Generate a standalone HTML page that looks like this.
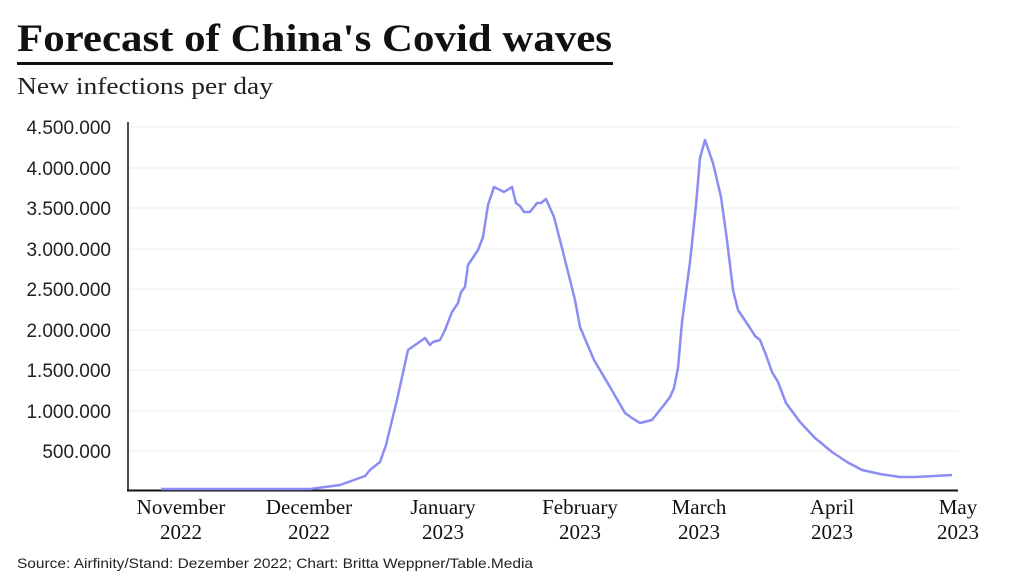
<!DOCTYPE html>
<html><head><meta charset="utf-8"><style>
body{margin:0;background:#fff;width:1024px;height:576px;overflow:hidden}
svg{display:block}
</style></head><body>
<svg width="1024" height="576" xmlns="http://www.w3.org/2000/svg" font-family="'Liberation Serif',serif">
<text x="17" y="51" font-size="39" font-weight="bold" fill="#111" textLength="595" lengthAdjust="spacingAndGlyphs">Forecast of China's Covid waves</text>
<rect x="17" y="62" width="596" height="3" fill="#111"/>
<text x="17" y="94" font-size="24" fill="#222" textLength="256" lengthAdjust="spacingAndGlyphs">New infections per day</text>
<g stroke="#eee" stroke-width="1">
<line x1="129" y1="127" x2="958" y2="127"/><line x1="129" y1="168" x2="958" y2="168"/>
<line x1="129" y1="208" x2="958" y2="208"/><line x1="129" y1="249" x2="958" y2="249"/>
<line x1="129" y1="289" x2="958" y2="289"/><line x1="129" y1="330" x2="958" y2="330"/>
<line x1="129" y1="370" x2="958" y2="370"/><line x1="129" y1="411" x2="958" y2="411"/>
<line x1="129" y1="451" x2="958" y2="451"/>
</g>
<g font-family="'Liberation Sans',sans-serif" font-size="19" fill="#222" text-anchor="end">
<text x="111" y="134">4.500.000</text><text x="111" y="175">4.000.000</text>
<text x="111" y="215">3.500.000</text><text x="111" y="256">3.000.000</text>
<text x="111" y="296">2.500.000</text><text x="111" y="337">2.000.000</text>
<text x="111" y="377">1.500.000</text><text x="111" y="418">1.000.000</text>
<text x="111" y="458">500.000</text>
</g>
<line x1="128" y1="122" x2="128" y2="491" stroke="#111" stroke-width="1.5"/>
<line x1="127" y1="490.5" x2="958" y2="490.5" stroke="#111" stroke-width="2"/>
<polyline fill="none" stroke="#8c8cf5" stroke-width="2.5" stroke-linejoin="round" points="161,489 310,489 340,485 365,476 370,470 380,462 386,445 397,400 408,350 425,338 430,345 433,342 440,340 445,330 452,312 458,303 461,292 465,287 468,265 478,250 483,237 488,205 494,187 504,192 512,187 516,203 520,206 524,212 530,212 537,203 541,203 546,199 554,217 562,248 567,268 575,300 580,327 594,360 610,387 625,413 632,418 640,423 652,420 664,405 670,397 674,388 678,368 682,322 690,262 696,205 700,158 705,140 713,163 721,197 727,240 733,290 738,310 750,328 755,336 760,340 766,355 772,372 778,382 786,403 800,422 815,438 832,452 847,462 862,470 880,474 900,477 915,477 935,476 952,475"/>
<g font-size="21" fill="#111" text-anchor="middle">
<text x="181" y="514">November</text><text x="181" y="539">2022</text>
<text x="309" y="514">December</text><text x="309" y="539">2022</text>
<text x="443" y="514">January</text><text x="443" y="539">2023</text>
<text x="580" y="514">February</text><text x="580" y="539">2023</text>
<text x="699" y="514">March</text><text x="699" y="539">2023</text>
<text x="832" y="514">April</text><text x="832" y="539">2023</text>
<text x="958" y="514">May</text><text x="958" y="539">2023</text>
</g>
<text x="17" y="568" font-family="'Liberation Sans',sans-serif" font-size="14" fill="#222" textLength="516" lengthAdjust="spacingAndGlyphs">Source: Airfinity/Stand: Dezember 2022; Chart: Britta Weppner/Table.Media</text>
</svg>
</body></html>
